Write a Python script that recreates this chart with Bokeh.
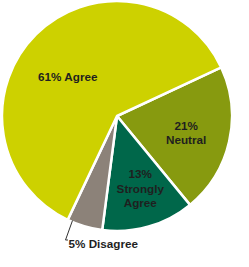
import math
from bokeh.plotting import figure
from bokeh.models import Range1d, ColumnDataSource
from bokeh.embed import file_html
from bokeh.resources import INLINE
from bokeh.core.properties import value

# data
categories = ["Neutral", "Strongly Agree", "Disagree", "Agree"]
percents = [21, 13, 5, 61]
colors = ["#879A0F", "#00674A", "#8C8279", "#CDD100"]
label_lines = [["21%", "Neutral"], ["13%", "Strongly", "Agree"], ["5% Disagree"], ["61% Agree"]]

W, H = 233, 251
p = figure(width=W, height=H, output_backend="svg", toolbar_location=None,
           x_range=Range1d(0, W), y_range=Range1d(0, H), min_border=0)
p.axis.visible = False
p.grid.visible = False
p.outline_line_color = None
p.background_fill_color = "white"
p.border_fill_color = "white"

cx, cy, r = 116.5, 135.5, 115
start_deg = 25.0
total = sum(percents)
starts, ends = [], []
cum = 0
for v in percents:
    a0 = start_deg - cum / total * 360
    a1 = a0 - v / total * 360
    starts.append(math.radians(a1))
    ends.append(math.radians(a0))
    cum += v

src = ColumnDataSource(dict(cat=categories, val=percents, color=colors,
                            start=starts, end=ends))
p.wedge(x=cx, y=cy, radius=r, start_angle="start", end_angle="end",
        fill_color="color", line_color="white", line_width=2.5, source=src)

font = value("Liberation Sans")
txt = "#1f1f1f"

def lines(x, y_top, ls, align="center", step=14.5):
    for i, s in enumerate(ls):
        p.text(x=[x], y=[y_top - i * step], text=[s], text_font=font,
               text_font_style="bold", text_font_size="11.7px", text_color=txt,
               text_align=align, text_baseline="middle")

lines(185.6, 126.5, label_lines[0])
lines(139.8, 78.0, label_lines[1])
lines(67.5, 175.0, label_lines[3])
lines(68, 8.0, label_lines[2], align="left")

# leader line for Disagree
p.line(x=[72, 65, 67.5], y=[31, 11.5, 11.5], line_color="#333333", line_width=1)

open("out.html", "w").write(file_html(p, INLINE))
